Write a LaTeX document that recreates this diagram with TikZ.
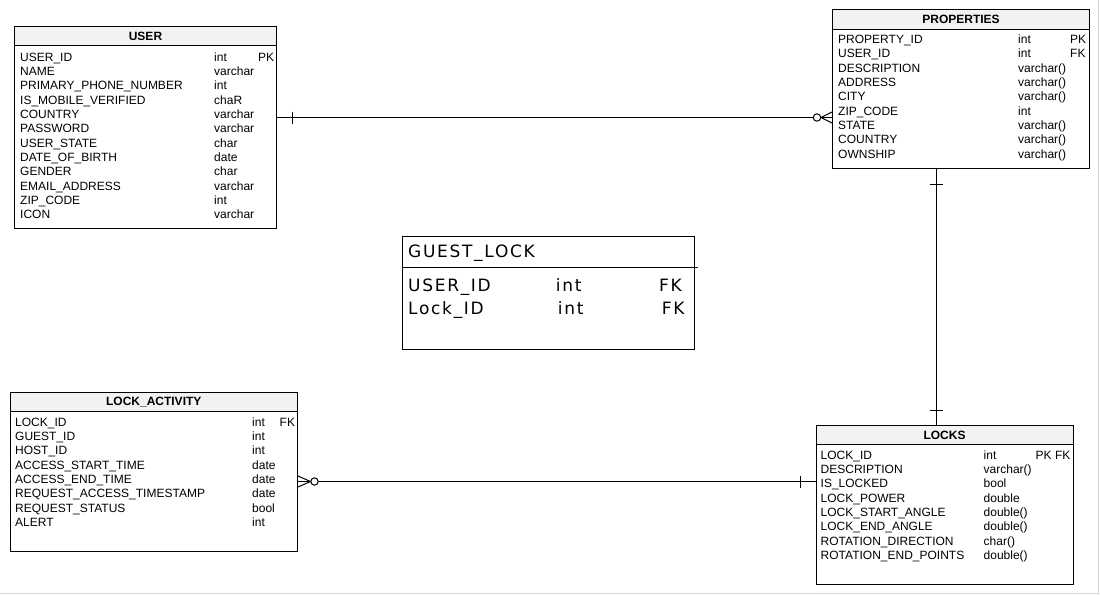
\documentclass[tikz,border=0pt]{standalone}
\usepackage{fontspec}
\setmainfont{Liberation Sans}
\newfontfamily\guestfont[LetterSpace=10]{DejaVu Sans}
\definecolor{headgrey}{HTML}{F2F2F2}
\definecolor{framegrey}{HTML}{D4D4D4}

\begin{document}
\begin{tikzpicture}[x=1pt,y=-1pt]
        \tikzset{table box/.style={draw,line width=1pt,anchor=north west,inner sep=0pt},
                 table head/.style={draw,line width=1pt,fill=headgrey,anchor=north west,inner sep=0pt,minimum height=19pt,font=\fontsize{12}{14}\selectfont\bfseries},
                 field/.style={anchor=base west,inner sep=0pt,font=\fontsize{12}{14}\selectfont},
                 guest field/.style={anchor=base west,inner sep=0pt,font=\guestfont\fontsize{17}{20}\selectfont},
                 rel/.style={line width=1pt}}

        \useasboundingbox (0,0) rectangle (1100,595);
        \draw[framegrey,line width=1pt] (1098.5,0) -- (1098.5,593.5) -- (0,593.5);

        % USER
        \node[table box,minimum width=262pt,minimum height=202pt] (user) at (14,26) {};
        \node[table head,minimum width=262pt] (user-head) at (14,26) {USER};
        \foreach \n/\t [count=\i] in {USER\_ID/int, NAME/varchar, PRIMARY\_PHONE\_NUMBER/int, IS\_MOBILE\_VERIFIED/chaR, COUNTRY/varchar, PASSWORD/varchar, USER\_STATE/char, DATE\_OF\_BIRTH/date, GENDER/char, EMAIL\_ADDRESS/varchar, ZIP\_CODE/int, ICON/varchar}{
            \node[field] (user-n\i) at (20,61.3+14.3*\i-14.3) {\n};
            \node[field] (user-t\i) at (214,61.3+14.3*\i-14.3) {\t};
        }
        \node[field] (user-k1) at (258,61.3) {PK};

        % PROPERTIES
        \node[table box,minimum width=257pt,minimum height=159pt] (props) at (832,9) {};
        \node[table head,minimum width=257pt,minimum height=20pt] (props-head) at (832,9) {PROPERTIES};
        \foreach \n/\t [count=\i] in {PROPERTY\_ID/int, USER\_ID/int, DESCRIPTION/varchar(), ADDRESS/varchar(), CITY/varchar(), ZIP\_CODE/int, STATE/varchar(), COUNTRY/varchar(), OWNSHIP/varchar()}{
            \node[field] (props-n\i) at (838,43.3+14.375*\i-14.375) {\n};
            \node[field] (props-t\i) at (1018,43.3+14.375*\i-14.375) {\t};
        }
        \node[field] (props-k1) at (1070,43.3) {PK};
        \node[field] (props-k2) at (1070,57.7) {FK};

        % LOCK_ACTIVITY
        \node[table box,minimum width=287.5pt,minimum height=159pt] (activity) at (9.5,392) {};
        \node[table head,minimum width=287.5pt] (activity-head) at (9.5,392) {LOCK\_ACTIVITY};
        \foreach \n/\t [count=\i] in {LOCK\_ID/int, GUEST\_ID/int, HOST\_ID/int, ACCESS\_START\_TIME/date, ACCESS\_END\_TIME/date, REQUEST\_ACCESS\_TIMESTAMP/date, REQUEST\_STATUS/bool, ALERT/int}{
            \node[field] (activity-n\i) at (15,426.3+14.3*\i-14.3) {\n};
            \node[field] (activity-t\i) at (252,426.3+14.3*\i-14.3) {\t};
        }
        \node[field] (activity-k1) at (279.5,426.3) {FK};

        % LOCKS
        \node[table box,minimum width=257pt,minimum height=159pt] (locks) at (815.5,425) {};
        \node[table head,minimum width=257pt] (locks-head) at (815.5,425) {LOCKS};
        \foreach \n/\t [count=\i] in {LOCK\_ID/int, DESCRIPTION/varchar(), IS\_LOCKED/bool, LOCK\_POWER/double, LOCK\_START\_ANGLE/double(), LOCK\_END\_ANGLE/double(), ROTATION\_DIRECTION/char(), ROTATION\_END\_POINTS/double()}{
            \node[field] (locks-n\i) at (820.5,459.3+14.3*\i-14.3) {\n};
            \node[field] (locks-t\i) at (983.5,459.3+14.3*\i-14.3) {\t};
        }
        \node[field] (locks-k1) at (1035.5,459.3) {PK FK};

        % GUEST_LOCK
        \node[table box,minimum width=292.5pt,minimum height=113.5pt] (guest) at (401.5,235.5) {};
        \node[guest field] (guest-title) at (408,257) {GUEST\_LOCK};
        \draw[rel] (guest.west |- 0,267.3) -- ++(296.5,0);
        \node[guest field] (guest-n1) at (408,291.7) {USER\_ID};
        \node[guest field] (guest-t1) at (555.7,291.7) {int};
        \node[guest field] (guest-k1) at (659,291.7) {FK};
        \node[guest field] (guest-n2) at (408,314) {Lock\_ID};
        \node[guest field] (guest-t2) at (557.7,314) {int};
        \node[guest field] (guest-k2) at (661.7,314) {FK};

        % relations
        \coordinate (up-a) at (user.east |- 0,117.5);
        \coordinate (up-b) at (props.west |- 0,117.5);
        \draw[rel] (up-a) -- (up-b);
        \draw[rel] (up-a) ++(15.5,-6) -- ++(0,12);
        \draw[rel] (up-b) ++(-11,0) -- ++(11,-5.5) (up-b) ++(-11,0) -- ++(11,5.5);
        \draw[rel,fill=white] (up-b) ++(-15,0) circle (3.7pt);

        \coordinate (pl-a) at (936,0 |- props.south);
        \coordinate (pl-b) at (936,0 |- locks.north);
        \draw[rel] (pl-a) -- (pl-b);
        \draw[rel] (pl-a) ++(-6.5,15.5) -- ++(13,0);
        \draw[rel] (pl-b) ++(-6.5,-15) -- ++(13,0);

        \coordinate (al-a) at (activity.east |- 0,481.5);
        \coordinate (al-b) at (locks.west |- 0,481.5);
        \draw[rel] (al-a) -- (al-b);
        \draw[rel] (al-a) ++(0,-5.5) -- ++(12.5,5.5) -- ++(-12.5,5.5);
        \draw[rel,fill=white] (al-a) ++(16.5,0) circle (3.7pt);
        \draw[rel] (al-b) ++(-15,-6) -- ++(0,12);
    \end{tikzpicture}
\end{document}
